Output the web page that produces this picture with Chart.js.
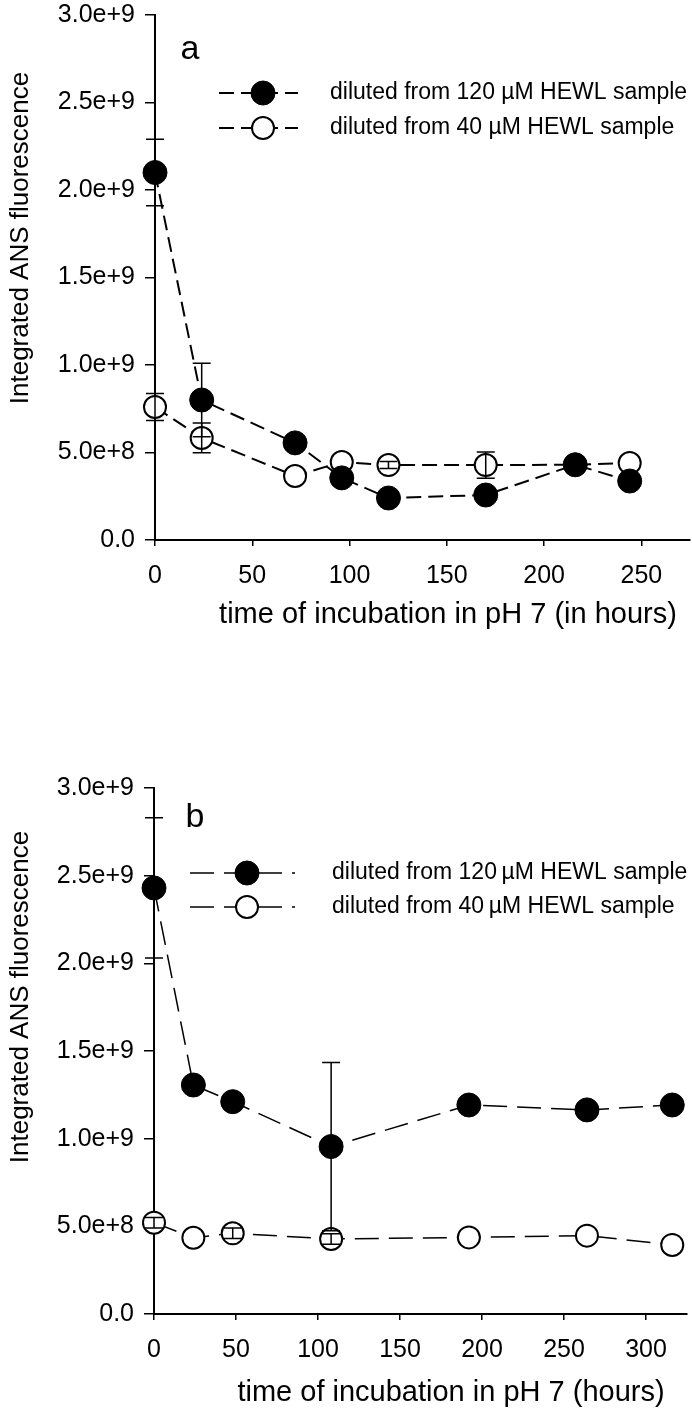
<!DOCTYPE html>
<html>
<head>
<meta charset="utf-8">
<script src="https://cdn.jsdelivr.net/npm/chart.js@4.4.0/dist/chart.umd.min.js"></script>
<style>
  html, body { margin: 0; padding: 0; background: #fff; }
  canvas { display: block; }
</style>
</head>
<body>
<canvas id="chartA" width="692" height="700"></canvas>
<canvas id="chartB" width="692" height="715"></canvas>
<script>
// panel a
const hoursA = [0, 24, 72, 96, 120, 170, 216, 244];
const from120A = [2.10e9, 0.80e9, 0.555e9, 0.355e9, 0.24e9, 0.257e9, 0.43e9, 0.337e9];
const from120ErrA = [0.19e9, 0.21e9, 0, 0, 0, 0, 0, 0];
const from40A = [0.76e9, 0.583e9, 0.366e9, 0.446e9, 0.428e9, 0.428e9, 0.43e9, 0.44e9];
const from40ErrA = [0.077e9, 0.085e9, 0, 0, 0.02e9, 0.075e9, 0, 0];

// panel b
const hoursB = [0, 24, 48, 108, 192, 264, 316];
const from120B = [2.43e9, 1.306e9, 1.211e9, 0.955e9, 1.192e9, 1.164e9, 1.192e9];
const from120ErrB = [0.40e9, 0, 0, 0.48e9, 0, 0, 0];
const from40B = [0.521e9, 0.435e9, 0.46e9, 0.428e9, 0.437e9, 0.447e9, 0.394e9];
const from40ErrB = [0.03e9, 0, 0.03e9, 0.03e9, 0, 0, 0];

const seriesNames = ['diluted from 120 \u00b5M HEWL sample', 'diluted from 40 \u00b5M HEWL sample'];
const seriesNamesB = ['diluted from 120\u2009\u00b5M HEWL sample', 'diluted from 40\u2009\u00b5M HEWL sample'];
const yLabel = 'Integrated ANS fluorescence';
const xLabelA = 'time of incubation in pH 7 (in hours)';
const xLabelB = 'time of incubation in pH 7 (hours)';

const FONT = '"Liberation Sans", Arial, Helvetica, sans-serif';

function pairs(xs, ys) {
    return xs.map((x, i) => ({ x: x, y: ys[i] }));
}

// vertical error bars with caps, drawn over the markers
const errorBars = {
    id: 'errorBars',
    afterDatasetsDraw(chart) {
        const ctx = chart.ctx;
        const yScale = chart.scales.y;
        ctx.save();
        ctx.strokeStyle = '#000';
        ctx.lineWidth = 1.5;
        chart.data.datasets.forEach((ds, i) => {
            if (!ds.errors) return;
            const meta = chart.getDatasetMeta(i);
            meta.data.forEach((pt, j) => {
                const e = ds.errors[j];
                if (!e) return;
                const v = ds.data[j].y;
                const top = yScale.getPixelForValue(v + e);
                const bot = yScale.getPixelForValue(v - e);
                const cap = 9;
                ctx.beginPath();
                ctx.moveTo(pt.x, top); ctx.lineTo(pt.x, bot);
                ctx.moveTo(pt.x - cap, top); ctx.lineTo(pt.x + cap, top);
                ctx.moveTo(pt.x - cap, bot); ctx.lineTo(pt.x + cap, bot);
                ctx.stroke();
            });
        });
        ctx.restore();
    }
};

// legend: dashed line sample with the marker in the middle
const lineKey = {
    id: 'lineKey',
    afterDraw(chart, args, opts) {
        const ctx = chart.ctx;
        ctx.save();
        chart.data.datasets.forEach((ds, i) => {
            const y = opts.rows[i];
            ctx.strokeStyle = '#000';
            ctx.lineWidth = ds.borderWidth;
            ctx.setLineDash(ds.borderDash);
            ctx.beginPath();
            ctx.moveTo(opts.x1, y); ctx.lineTo(opts.x2, y);
            ctx.stroke();
            ctx.setLineDash([]);
            ctx.beginPath();
            ctx.arc(opts.mx, y, ds.pointRadius, 0, Math.PI * 2);
            ctx.fillStyle = ds.pointBackgroundColor;
            ctx.fill();
            ctx.lineWidth = ds.pointBorderWidth;
            ctx.stroke();
            ctx.fillStyle = '#000';
            ctx.font = opts.font;
            ctx.textAlign = 'left';
            ctx.textBaseline = 'middle';
            ctx.fillText(ds.label, opts.tx, y);
        });
        ctx.restore();
    }
};

// free text: panel letter and axis titles
const freeText = {
    id: 'freeText',
    afterDraw(chart, args, opts) {
        const ctx = chart.ctx;
        opts.items.forEach(it => {
            ctx.save();
            ctx.translate(it.x, it.y);
            if (it.rotate) ctx.rotate(it.rotate);
            ctx.font = it.font;
            ctx.fillStyle = '#000';
            ctx.textAlign = 'center';
            ctx.textBaseline = 'middle';
            ctx.fillText(it.text, 0, 0);
            ctx.restore();
        });
    }
};

function makeChart(id, cfg) {
    const filled = {
        label: cfg.names[0],
        data: pairs(cfg.hours, cfg.from120),
        errors: cfg.err120,
        borderColor: '#000',
        borderWidth: cfg.lineWidth,
        borderDash: cfg.dash,
        pointRadius: 12,
        pointBackgroundColor: '#000',
        pointBorderColor: '#000',
        pointBorderWidth: 1,
        fill: false,
        clip: false,
        tension: 0
    };
    const open = {
        label: cfg.names[1],
        data: pairs(cfg.hours, cfg.from40),
        errors: cfg.err40,
        borderColor: '#000',
        borderWidth: cfg.lineWidth,
        borderDash: cfg.dash,
        pointRadius: 11,
        pointBackgroundColor: '#fff',
        pointBorderColor: '#000',
        pointBorderWidth: 2,
        fill: false,
        clip: false,
        tension: 0
    };
    return new Chart(document.getElementById(id).getContext('2d'), {
        type: 'line',
        data: { datasets: [filled, open] },
        options: {
            responsive: false,
            animation: false,
            layout: { autoPadding: false, padding: cfg.padding },
            plugins: {
                legend: { display: false },
                tooltip: { enabled: false },
                lineKey: cfg.key,
                freeText: { items: cfg.texts }
            },
            scales: {
                x: {
                    type: 'linear',
                    min: 0,
                    max: cfg.xMax,
                    afterFit: s => { s.height = cfg.xHeight; s.paddingLeft = 0; s.paddingRight = 0; },
                    border: { display: true, color: '#000', width: 2 },
                    grid: { drawOnChartArea: false, drawTicks: true, tickLength: 6, color: '#000', lineWidth: 1.5 },
                    ticks: {
                        stepSize: 50,
                        includeBounds: false,
                        maxRotation: 0,
                        padding: 15,
                        color: '#000',
                        font: { family: FONT, size: 25 }
                    }
                },
                y: {
                    min: 0,
                    max: 3.0e9,
                    afterFit: s => { s.width = cfg.yWidth; s.paddingTop = 0; s.paddingBottom = 0; },
                    border: { display: true, color: '#000', width: 2 },
                    grid: { drawOnChartArea: false, drawTicks: true, tickLength: 10, color: '#000', lineWidth: 1.5 },
                    ticks: {
                        stepSize: 0.5e9,
                        padding: 10,
                        color: '#000',
                        font: { family: FONT, size: 25 },
                        callback: v => v === 0 ? '0.0' : v.toExponential(1)
                    }
                }
            }
        },
        plugins: [errorBars, lineKey, freeText]
    });
}

makeChart('chartA', {
    hours: hoursA, from120: from120A, err120: from120ErrA, from40: from40A, err40: from40ErrA,
    names: seriesNames,
    lineWidth: 2, dash: [15, 7],
    xMax: 275, yWidth: 155, xHeight: 160,
    padding: { top: 15, right: 2, left: 0, bottom: 0 },
    key: { x1: 219, x2: 298, mx: 263, tx: 330, rows: [93, 128], font: '23px ' + FONT },
    texts: [
        { text: 'a', x: 190, y: 50, font: '34px ' + FONT },
        { text: yLabel, x: 21, y: 238, rotate: -Math.PI / 2, font: '26px ' + FONT },
        { text: xLabelA, x: 448, y: 615, font: '29px ' + FONT }
    ]
});

makeChart('chartB', {
    hours: hoursB, from120: from120B, err120: from120ErrB, from40: from40B, err40: from40ErrB,
    names: seriesNamesB,
    lineWidth: 1.5, dash: [24, 10],
    xMax: 325, yWidth: 154, xHeight: 101,
    padding: { top: 88, right: 5, left: 0, bottom: 0 },
    key: { x1: 190, x2: 295, mx: 247, tx: 332, rows: [173, 207], font: '23px ' + FONT },
    texts: [
        { text: 'b', x: 195, y: 118, font: '34px ' + FONT },
        { text: yLabel, x: 21, y: 297, rotate: -Math.PI / 2, font: '26px ' + FONT },
        { text: xLabelB, x: 451, y: 693, font: '29px ' + FONT }
    ]
});
</script>
</body>
</html>
